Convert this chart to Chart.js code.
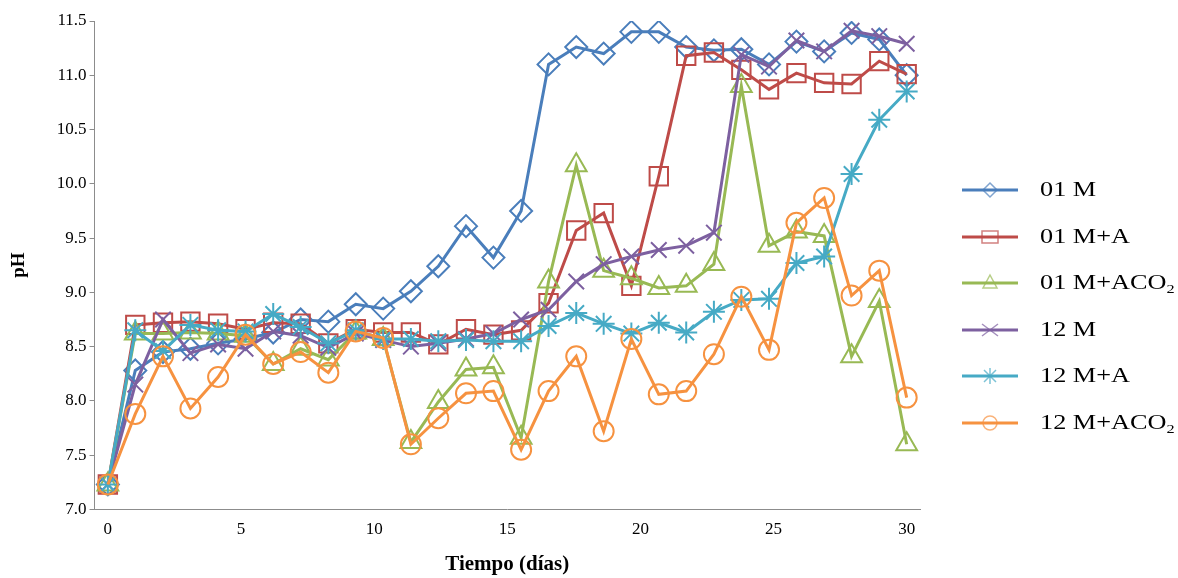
<!DOCTYPE html>
<html>
<head>
<meta charset="utf-8">
<script src="https://cdn.jsdelivr.net/npm/chart.js@4.4.1/dist/chart.umd.min.js"></script>
<style>
  html, body { margin: 0; padding: 0; background: #fff; }
  #wrap { position: relative; width: 1178px; height: 578px; }
  #chartBox { position: absolute; left: 0; top: 0; width: 1178px; height: 578px; }
  #legend { position: absolute; left: 0; top: 0; font-family: 'Liberation Serif', 'Times New Roman', serif; color: #000; }
  .item { position: absolute; left: 962px; height: 24px; white-space: nowrap; }
  .item svg { position: absolute; left: 0; top: 2px; }
  .item span { position: absolute; left: 78px; top: -3px; font-size: 21px; line-height: 28px; display: inline-block; transform: scaleX(1.25); transform-origin: left center; }
  .item sub { font-size: 0.62em; vertical-align: -0.3em; }
</style>
</head>
<body>
<div id="wrap">
  <div id="chartBox"><canvas id="chart"></canvas></div>
  <div id="legend"></div>
</div>
<script>
// sampling days (x)
const days = [0, 1.03, 2.07, 3.10, 4.14, 5.17, 6.21, 7.24, 8.28, 9.31, 10.34, 11.38, 12.41, 13.45, 14.48,
  15.52, 16.55, 17.59, 18.62, 19.66, 20.69, 21.72, 22.76, 23.79, 24.83, 25.86, 26.90, 27.93, 28.97, 30];

// pH per treatment
const m01 = [7.23, 8.28, 8.45, 8.48, 8.53, 8.57, 8.63, 8.75, 8.73, 8.89, 8.85, 9.01, 9.24, 9.61, 9.32,
  9.75, 11.10, 11.26, 11.20, 11.40, 11.40, 11.26, 11.23, 11.24, 11.10, 11.31, 11.22, 11.39, 11.33, 11.00];
const m01A = [7.23, 8.70, 8.72, 8.73, 8.71, 8.66, 8.72, 8.71, 8.53, 8.66, 8.63, 8.63, 8.52, 8.66, 8.61,
  8.65, 8.90, 9.57, 9.73, 9.06, 10.07, 11.18, 11.21, 11.05, 10.87, 11.02, 10.93, 10.92, 11.13, 11.01];
const m01ACO2 = [7.23, 8.62, 8.62, 8.63, 8.62, 8.60, 8.34, 8.48, 8.38, 8.63, 8.57, 7.62, 7.99, 8.29, 8.31,
  7.66, 9.10, 10.17, 9.20, 9.13, 9.04, 9.06, 9.26, 10.90, 9.43, 9.56, 9.52, 8.41, 8.92, 7.60];
const m12 = [7.23, 8.15, 8.75, 8.44, 8.52, 8.48, 8.64, 8.60, 8.49, 8.62, 8.56, 8.50, 8.53, 8.57, 8.62,
  8.75, 8.84, 9.10, 9.26, 9.33, 9.39, 9.43, 9.55, 11.19, 11.08, 11.32, 11.22, 11.41, 11.36, 11.29];
const m12A = [7.23, 8.65, 8.46, 8.70, 8.65, 8.64, 8.80, 8.68, 8.53, 8.65, 8.57, 8.57, 8.55, 8.56, 8.55,
  8.55, 8.69, 8.81, 8.71, 8.62, 8.72, 8.63, 8.82, 8.93, 8.94, 9.27, 9.33, 10.09, 10.59, 10.85];
const m12ACO2 = [7.23, 7.88, 8.41, 7.93, 8.22, 8.61, 8.34, 8.45, 8.26, 8.64, 8.58, 7.60, 7.84, 8.07, 8.09,
  7.55, 8.09, 8.41, 7.72, 8.57, 8.06, 8.09, 8.43, 8.96, 8.47, 9.64, 9.87, 8.97, 9.20, 8.03];

const labels = ['01 M', '01 M+A', '01 M+ACO₂', '12 M', '12 M+A', '12 M+ACO₂'];
const xTicks = [0, 5, 10, 15, 20, 25, 30];
const yTicks = [7.0, 7.5, 8.0, 8.5, 9.0, 9.5, 10.0, 10.5, 11.0, 11.5];

const series = [m01, m01A, m01ACO2, m12, m12A, m12ACO2];
const colors = ['#4A7EBB', '#BE4B48', '#98B954', '#7D60A0', '#46AAC5', '#F69240'];
const markers = ['rectRot', 'rect', 'triangle', 'crossRot', 'star', 'circle'];
const radii = [11, 13, 12, 11, 11, 10];

const serif = "'Liberation Serif', 'Times New Roman', serif";

new Chart(document.getElementById('chart'), {
  type: 'line',
  data: {
    datasets: series.map((vals, i) => ({
      label: labels[i],
      data: vals.map((v, j) => ({ x: days[j], y: v })),
      borderColor: colors[i],
      borderWidth: 3,
      pointStyle: markers[i],
      pointRadius: radii[i],
      pointBorderWidth: 2,
      pointBorderColor: colors[i],
      pointBackgroundColor: 'rgba(255,255,255,0)',
      tension: 0,
      // later series on top, like the original
      order: series.length - i,
    })),
  },
  options: {
    animation: false,
    responsive: true,
    maintainAspectRatio: false,
    layout: { padding: { top: 21, right: 258, bottom: 1, left: 0 } },
    plugins: {
      legend: { display: false },
      tooltip: { enabled: false },
    },
    scales: {
      x: {
        type: 'linear',
        min: -0.5,
        max: 30.5,
        afterBuildTicks: scale => { scale.ticks = xTicks.map(v => ({ value: v })); },
        grid: { display: false },
        border: { display: true, color: '#8c8c8c', width: 1 },
        ticks: { font: { family: serif, size: 17 }, color: '#000', padding: 2, maxRotation: 0 },
        title: {
          display: true, text: 'Tiempo (días)', color: '#000',
          font: { family: serif, size: 21, weight: 'bold' },
          padding: { top: 10, bottom: 0 },
        },
      },
      y: {
        min: 7,
        max: 11.5,
        afterBuildTicks: scale => { scale.ticks = yTicks.map(v => ({ value: v })); },
        grid: { drawOnChartArea: false, drawTicks: true, tickLength: 5, color: '#8c8c8c' },
        border: { display: true, color: '#8c8c8c', width: 1 },
        ticks: {
          font: { family: serif, size: 17 }, color: '#000', padding: 3,
          callback: v => Number(v).toFixed(1),
        },
        title: {
          display: true, text: 'pH', color: '#000',
          font: { family: serif, size: 19, weight: 'bold' },
          padding: { top: 8, bottom: 23 },
        },
      },
    },
  },
});

// legend: line + hollow marker, built from the same arrays
function markerSvg(style, c) {
  const cx = 28, cy = 10;
  switch (style) {
    case 'rectRot': return `<polygon points="${cx},${cy - 7} ${cx + 7},${cy} ${cx},${cy + 7} ${cx - 7},${cy}" fill="none" stroke="${c}" stroke-width="1.5"/>`;
    case 'rect': return `<rect x="${cx - 8}" y="${cy - 6}" width="16" height="12" fill="none" stroke="${c}" stroke-width="1.5"/>`;
    case 'triangle': return `<polygon points="${cx},${cy - 8} ${cx + 7},${cy + 5} ${cx - 7},${cy + 5}" fill="none" stroke="${c}" stroke-width="1.5"/>`;
    case 'crossRot': return `<path d="M${cx - 8} ${cy - 6} L${cx + 8} ${cy + 6} M${cx - 8} ${cy + 6} L${cx + 8} ${cy - 6}" stroke="${c}" stroke-width="1.5"/>`;
    case 'star': return `<path d="M${cx - 6} ${cy - 6} L${cx + 6} ${cy + 6} M${cx - 6} ${cy + 6} L${cx + 6} ${cy - 6} M${cx} ${cy - 8} L${cx} ${cy + 8}" stroke="${c}" stroke-width="1.5"/>`;
    default: return `<circle cx="${cx}" cy="${cy}" r="7" fill="none" stroke="${c}" stroke-width="1.5"/>`;
  }
}
const legendTops = [178, 224.5, 271, 317.5, 364, 410.5];
document.getElementById('legend').innerHTML = labels.map((lab, i) =>
  `<div class="item" style="top:${legendTops[i]}px">
     <svg width="56" height="20"><line x1="0" y1="10" x2="56" y2="10" stroke="${colors[i]}" stroke-width="3"/>
     <g opacity="0.7">${markerSvg(markers[i], colors[i])}</g></svg>
     <span>${lab.replace('₂', '<sub>2</sub>')}</span>
   </div>`).join('');
</script>
</body>
</html>
